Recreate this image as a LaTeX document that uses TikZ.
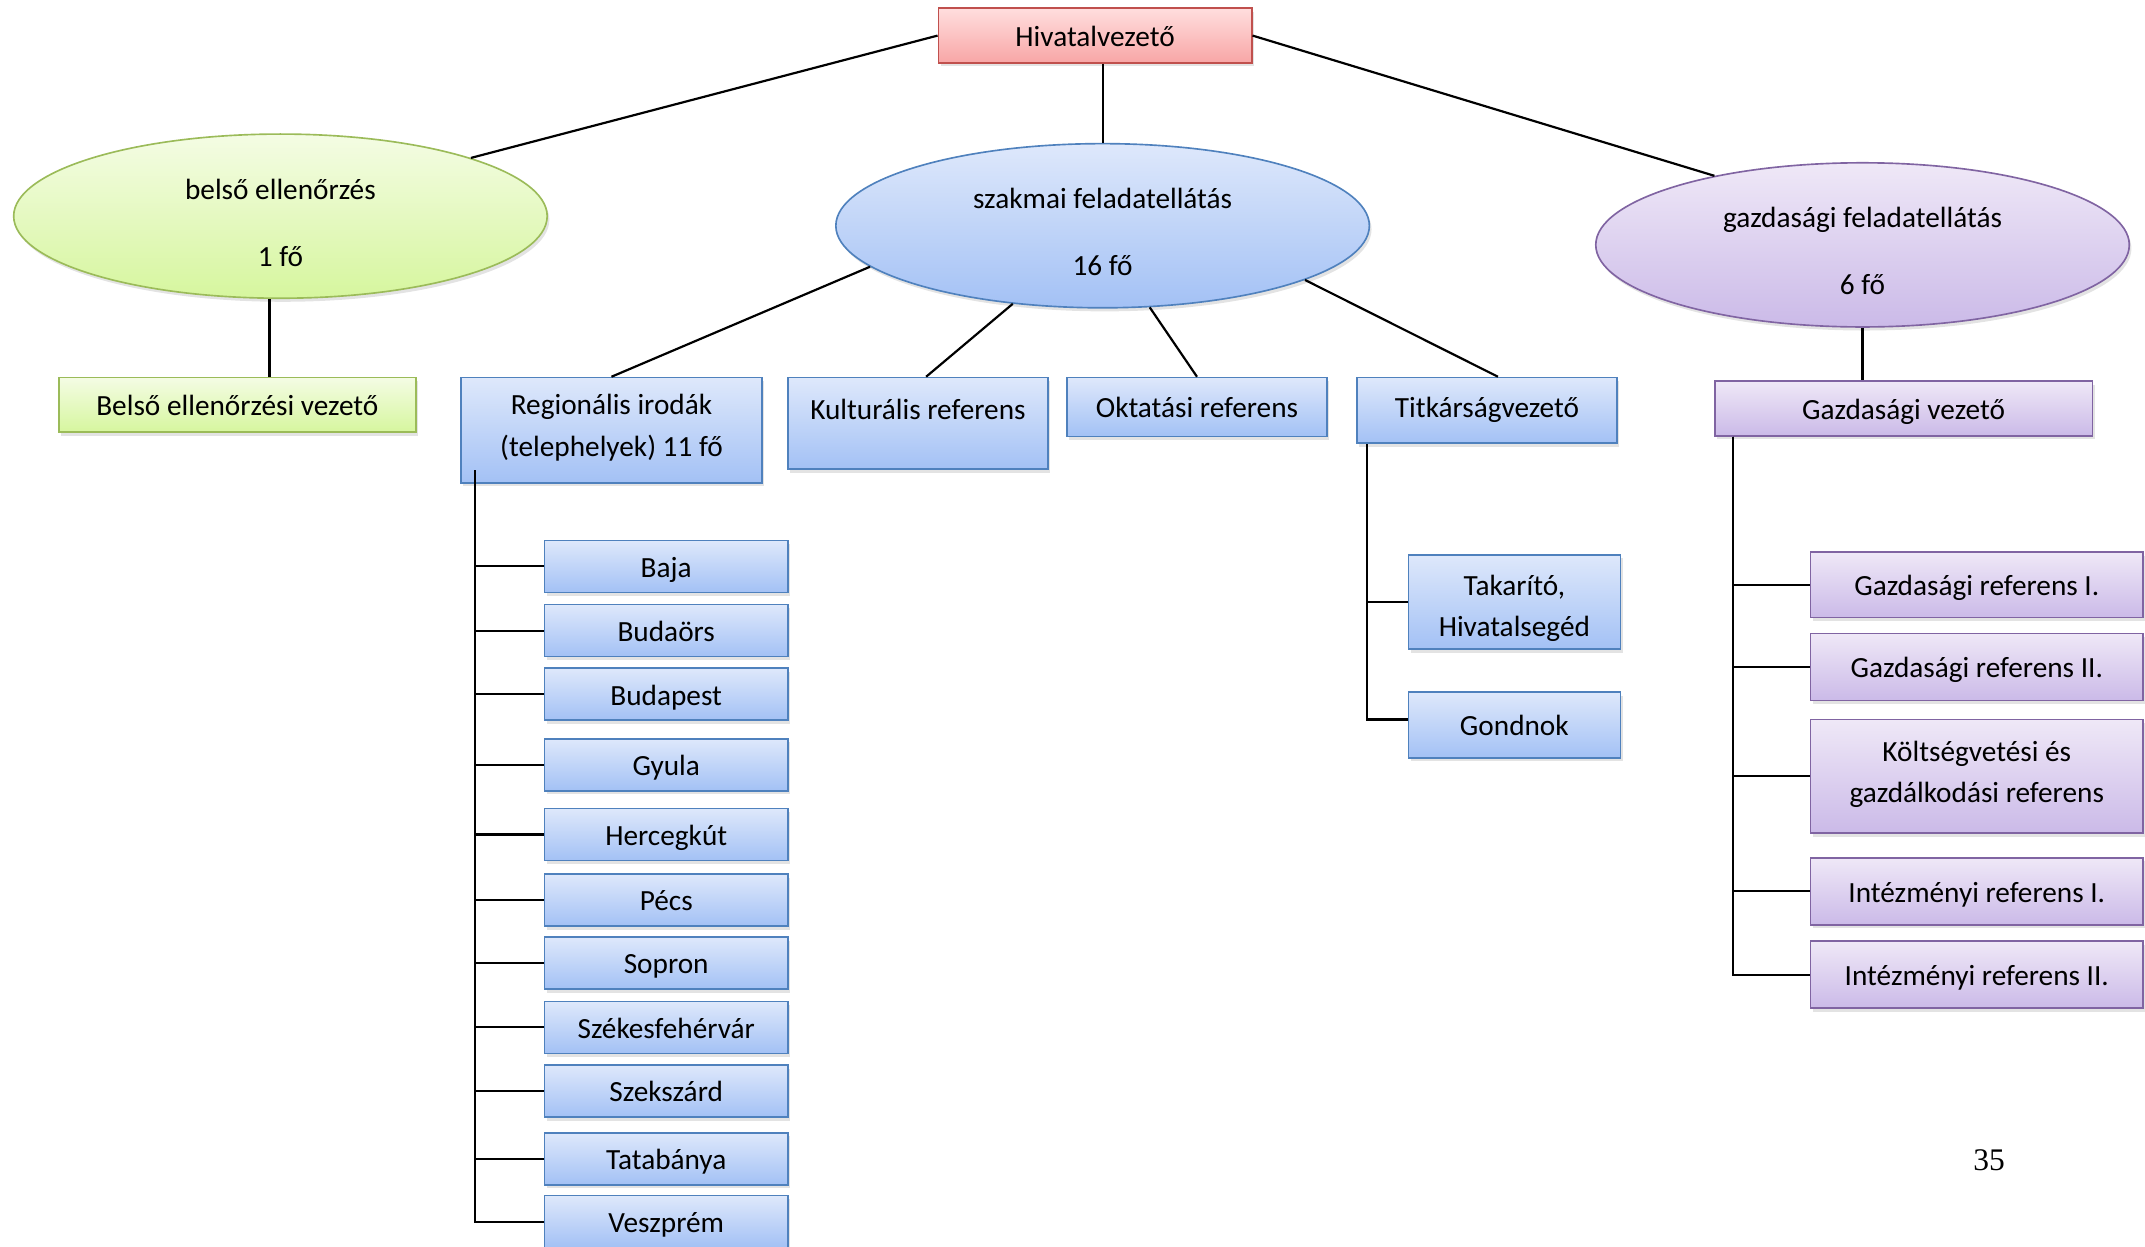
\documentclass[tikz,border=0pt]{standalone}
\usepackage{fontspec}
\setmainfont{Carlito}
\newfontfamily\lapszam{Liberation Serif}
\usetikzlibrary{shapes.geometric,shadows}
\definecolor{OrgBlueLine}{RGB}{79,129,189}
\definecolor{OrgBlueTop}{RGB}{222,232,251}
\definecolor{OrgBlueBot}{RGB}{163,193,245}
\definecolor{OrgRedLine}{RGB}{192,80,77}
\definecolor{OrgRedTop}{RGB}{255,222,222}
\definecolor{OrgRedBot}{RGB}{248,166,166}
\definecolor{OrgGreenLine}{RGB}{155,187,89}
\definecolor{OrgGreenTop}{RGB}{244,252,228}
\definecolor{OrgGreenBot}{RGB}{214,246,158}
\definecolor{OrgPurpleLine}{RGB}{128,100,162}
\definecolor{OrgPurpleTop}{RGB}{239,232,247}
\definecolor{OrgPurpleBot}{RGB}{203,186,232}
\newlength\kpx
\setlength\kpx{0.5pt}
\newcommand\tamasz{\rule[-3.6pt]{0pt}{15.1pt}}
\newcommand\ellszoveg[2]{\rule{0pt}{12.2pt}#1\\[9.5pt]#2}

\begin{document}
\begin{tikzpicture}[x=1\kpx,y=-1\kpx,font=\fontsize{10.7}{15}\selectfont,
    doboz/.style n args={3}{rectangle,draw=Org#1Line,line width=0.6pt,top color=Org#1Top,bottom color=Org#1Bot,minimum width=#2\kpx,minimum height=#3\kpx,inner sep=0pt,align=center,drop shadow={opacity=0.22,shadow xshift=0.8pt,shadow yshift=-1.3pt}},
    bx/.style n args={3}{doboz={#1}{#2}{#3},execute at begin node=\tamasz,execute at end node=\tamasz},
    ell/.style={doboz={#1}{390}{120},ellipse},
    vonal/.style={line width=0.8pt}]
    \useasboundingbox (0,0) rectangle (1568,911);
    % felso szint
    \node[bx={Red}{229}{40}](hv) at(800.5,26) {Hivatalvezető};
    \node[ell={Green}](belso) at(205,158) {\ellszoveg{belső ellenőrzés}{1 fő}};
    \node[ell={Blue}](szak) at(806,165) {\ellszoveg{szakmai feladatellátás}{16 fő}};
    \node[ell={Purple}](gazd) at(1361.5,179) {\ellszoveg{gazdasági feladatellátás}{6 fő}};
    \draw[vonal] (hv.west) -- (belso.17);
    \draw[vonal] (szak.north |- hv.south) -- (szak.north);
    \draw[vonal] (hv.east) -- (gazd.155);
    % masodik szint
    \node[bx={Green}{261}{40}](bev) at(173.5,296) {Belső ellenőrzési vezető};
    \node[bx={Blue}{220}{77}](reg) at(447,314.5) {Regionális irodák\\(telephelyek) 11 fő};
    \node[bx={Blue}{190}{67}](kult) at(671,309.5) {Kulturális referens\rule[-14pt]{0pt}{0pt}};
    \node[bx={Blue}{190}{43}](okt) at(875,297.5) {Oktatási referens};
    \node[bx={Blue}{190}{48}](titk) at(1087,300) {Titkárságvezető\rule[-6.6pt]{0pt}{0pt}};
    \node[bx={Purple}{276}{40}](gv) at(1391.5,298.5) {Gazdasági vezető};
    \draw[vonal] ([xshift=-4pt]belso.south) -- ([xshift=-4pt]belso.south |- bev.north);
    \draw[vonal] (szak.190) -- (reg.north);
    \draw[vonal] (szak.221) -- ([xshift=3pt]kult.north);
    \draw[vonal] (szak.300) -- (okt.north);
    \draw[vonal] (szak.345) -- ([xshift=4pt]titk.north);
    \draw[vonal] (gazd.south) -- (gazd.south |- gv.north);
    % telephelyek
    \foreach \nev/\szoveg/\y in %
    {baja/Baja/414,budaors/Budaörs/461,budapest/Budapest/507.5,gyula/Gyula/559,
     hercegkut/Hercegkút/610,pecs/Pécs/658,sopron/Sopron/704,szfvar/Székesfehérvár/751,
     szekszard/Szekszárd/797.5,tatabanya/Tatabánya/847,veszprem/Veszprém/893} {
       \node[bx={Blue}{178}{38}](\nev) at(487,\y) {\szoveg};
    }
    \coordinate (rt) at ([xshift=11\kpx,yshift=10\kpx]reg.south west);
    \foreach \nev in %
    {baja,budaors,budapest,gyula,hercegkut,pecs,sopron,szfvar,szekszard,tatabanya,veszprem} {
       \draw[vonal] (rt) |- (\nev.west);
    }
    % titkarsag
    \node[bx={Blue}{155}{69}](tak) at(1107,440) {\rule{0pt}{14pt}Takarító,\\Hivatalsegéd};
    \node[bx={Blue}{155}{48}](gond) at(1107,530) {Gondnok};
    \coordinate (tt) at ([xshift=8\kpx]titk.south west);
    \draw[vonal] (tt) |- (tak.west);
    \draw[vonal] (tt) |- ([yshift=4\kpx]gond.west);
    % gazdasagi referensek
    \foreach \nev/\szoveg/\y/\h in %
    {gr1/Gazdasági referens I./427.5/48,gr2/Gazdasági referens II./487.5/49,
     kgr/Költségvetési és\\gazdálkodási referens/567.5/83,
     ir1/Intézményi referens I./651.5/49,ir2/Intézményi referens II./712.5/49} {
       \node[bx={Purple}{243}{\h}](\nev) at(1445,\y) {\szoveg};
    }
    \coordinate (gt) at ([xshift=14\kpx]gv.south west);
    \foreach \nev in {gr1,gr2,kgr,ir1,ir2} {
       \draw[vonal] (gt) |- (\nev.west);
    }
    \node[font=\lapszam\fontsize{11.5}{14}\selectfont](lap) at(1454,848) {35};
\end{tikzpicture}
\end{document}
